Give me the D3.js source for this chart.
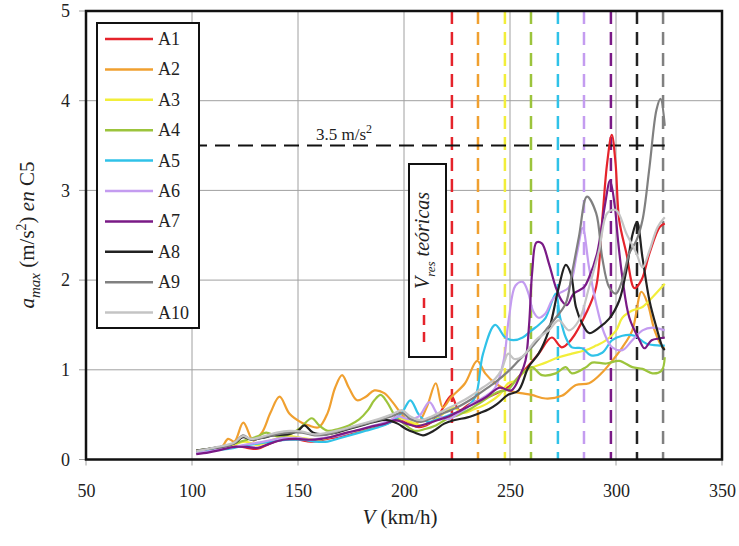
<!DOCTYPE html>
<html><head><meta charset="utf-8">
<script src="https://cdn.jsdelivr.net/npm/d3@7/dist/d3.min.js"></script>
<style>body{margin:0;background:#fff}svg{display:block}svg text{font-family:"Liberation Serif","Times New Roman",Times,serif}</style>
</head><body><svg id="c" width="739" height="546" style="font-family:'Liberation Serif',serif"></svg>
<script>
// ---- data ----
const xTicks = [50,100,150,200,250,300,350];
const yTicks = [0,1,2,3,4,5];
const seriesNames = ["A1","A2","A3","A4","A5","A6","A7","A8","A9","A10"];
const seriesColors = ["#e5232b","#f0a030","#f2ee3a","#9cc43c","#30c2e8","#c49cf0","#7a1a86","#222222","#808080","#c4c4c4"];
const resonanceSpeeds = [222.6,234.9,247.6,259.9,272.6,284.9,297.6,309.9,322.2]; // A1..A9
const limitValue = 3.5;
const limitRange = [100,323];

const A1 = [[102,0.07],[108,0.10],[114,0.12],[120,0.15],[126,0.13],[131,0.12],[137,0.18],[143,0.22],[150,0.22],[156,0.20],[162,0.22],[168,0.25],[174,0.28],[180,0.32],[186,0.36],[192,0.40],[197,0.44],[202,0.40],[207,0.36],[212,0.40],[217,0.52],[222.3,0.71],[226,0.55],[231,0.62],[238,0.68],[244,0.74],[250,0.82],[257,1.0],[263.5,1.18],[269.7,1.36],[274.4,1.25],[279,1.34],[285.9,1.63],[290.6,1.92],[293.5,2.67],[295.8,3.3],[298,3.62],[299.8,3.3],[301.5,2.67],[304.9,2.30],[308.7,1.91],[312,2.0],[315.8,2.30],[320.6,2.59],[323,2.63]];
const A2 = [[102,0.10],[108,0.11],[113.7,0.13],[117,0.23],[120,0.20],[124.2,0.41],[128.9,0.21],[133,0.30],[137,0.52],[141.3,0.70],[146,0.51],[151.8,0.41],[155,0.38],[159.8,0.36],[164,0.52],[167.5,0.80],[170.8,0.94],[174,0.80],[177.9,0.66],[182,0.70],[186,0.77],[190.7,0.74],[194.6,0.64],[199,0.50],[203.1,0.40],[207,0.42],[211,0.60],[215,0.85],[218.3,0.58],[222.1,0.69],[228.8,0.85],[234.5,1.10],[238.3,0.96],[243,0.85],[249.2,0.77],[255,0.74],[260.2,0.72],[266.8,0.68],[274.4,0.71],[281.1,0.83],[287.3,0.85],[293.5,0.97],[298.2,1.10],[303,1.25],[307.7,1.44],[312,1.87],[314.9,1.74],[318.2,1.44],[322,1.25],[323,1.24]];
const A3 = [[102,0.08],[110,0.12],[118,0.15],[125,0.20],[131,0.16],[138,0.22],[145,0.26],[152,0.24],[160,0.22],[167,0.26],[174,0.30],[180,0.33],[187,0.38],[193,0.42],[198,0.46],[203,0.42],[208,0.38],[213,0.42],[218,0.50],[223,0.58],[228,0.52],[233,0.56],[239,0.62],[245,0.72],[249.2,0.85],[253,0.88],[257.3,0.99],[266.8,1.08],[273,1.14],[279.2,1.18],[285.9,1.22],[290.6,1.27],[295.4,1.33],[300.1,1.44],[303,1.58],[307.7,1.66],[312.5,1.70],[317.2,1.81],[323,1.96]];
const A4 = [[102,0.10],[108,0.12],[114,0.14],[120,0.18],[126,0.22],[131,0.26],[135,0.30],[140,0.26],[146,0.28],[151,0.35],[156.5,0.46],[160,0.38],[164,0.32],[169,0.34],[174,0.38],[179,0.45],[183,0.55],[186,0.66],[189,0.72],[192,0.64],[196,0.48],[200,0.40],[205,0.32],[210,0.34],[215,0.38],[220,0.45],[226,0.50],[231,0.56],[237,0.65],[244,0.75],[249,0.78],[254,0.92],[260.2,1.03],[265,0.94],[271.6,0.96],[276.3,1.03],[279.2,0.96],[285.9,1.03],[288.7,1.08],[295.4,1.07],[301.5,1.10],[307.7,1.03],[312.5,1.01],[317.2,0.96],[321.5,0.99],[323,1.14]];
const A5 = [[102,0.08],[108,0.10],[114,0.11],[120,0.13],[126,0.16],[132,0.18],[138,0.20],[145,0.22],[152,0.22],[158,0.20],[164,0.20],[170,0.24],[176,0.28],[182,0.32],[188,0.36],[194,0.42],[199,0.52],[203,0.66],[207,0.50],[211,0.42],[216,0.45],[222,0.50],[228,0.55],[233.5,0.69],[237.3,1.18],[243,1.50],[247.8,1.36],[251.6,1.33],[256,1.36],[260.2,1.44],[263.5,1.50],[266.8,1.58],[271.6,1.85],[273.5,1.60],[276.3,1.36],[279.2,1.25],[284,1.24],[288.2,1.16],[293.5,1.19],[298.2,1.33],[303,1.38],[308.7,1.38],[314.4,1.29],[320.6,1.27],[323,1.27]];
const A6 = [[102,0.07],[108,0.09],[114,0.12],[120,0.14],[126,0.17],[132,0.19],[138,0.22],[144,0.24],[150,0.24],[156,0.22],[162,0.24],[168,0.26],[174,0.30],[180,0.34],[186,0.38],[192,0.42],[197,0.48],[202,0.45],[207,0.48],[212,0.64],[216,0.50],[221,0.45],[226,0.52],[232,0.62],[238,0.70],[243,0.80],[247,1.10],[249.5,1.58],[252.6,1.94],[256,1.98],[258.7,1.85],[261,1.65],[263.5,1.58],[266.8,1.63],[269.7,1.77],[273,1.85],[277.8,1.92],[281.6,2.30],[284.3,2.58],[287.3,2.14],[290.6,1.74],[294.4,1.41],[298.2,1.25],[303,1.22],[307.7,1.33],[312.5,1.44],[317.2,1.47],[323,1.44]];
const A7 = [[102,0.06],[108,0.08],[114,0.11],[120,0.14],[126,0.14],[131,0.13],[137,0.18],[143,0.22],[149,0.23],[155,0.22],[161,0.23],[167,0.26],[173,0.30],[179,0.33],[185,0.37],[191,0.40],[196,0.44],[201,0.40],[206,0.37],[211,0.40],[216,0.44],[221,0.48],[227,0.55],[233,0.62],[239,0.70],[245,0.80],[250.7,0.77],[255,0.95],[257.3,1.10],[259,1.5],[260.5,2.1],[262.5,2.42],[265,2.41],[268.3,2.19],[271.6,1.92],[274.4,1.77],[276.8,1.72],[280.1,1.85],[284.9,1.92],[287.3,2.03],[291.1,2.30],[294.6,2.81],[297.2,3.11],[299.5,2.81],[300.8,2.48],[303,2.03],[306.3,1.58],[311.1,1.33],[313.4,1.24],[316.8,1.33],[320.6,1.35],[323,1.36]];
const A8 = [[102,0.10],[108,0.12],[114,0.14],[120,0.18],[124,0.25],[128,0.22],[133,0.24],[139,0.27],[145,0.28],[150,0.32],[153,0.38],[157,0.30],[162,0.28],[168,0.30],[174,0.34],[180,0.38],[186,0.42],[192,0.44],[197,0.40],[201,0.34],[205,0.30],[209,0.27],[214,0.32],[219,0.40],[224,0.44],[230,0.47],[236,0.52],[240,0.56],[244,0.62],[249,0.72],[254,0.77],[258.7,1.03],[263.5,1.18],[268.3,1.44],[273,1.92],[276.3,2.17],[278.7,2.07],[281.1,1.70],[284,1.52],[287.3,1.41],[292,1.47],[296.8,1.57],[301.5,1.77],[304.9,2.11],[307.7,2.50],[309.9,2.65],[312.5,2.25],[315.8,1.77],[319.1,1.47],[322,1.25],[323,1.22]];
const A9 = [[102,0.10],[108,0.12],[114,0.14],[120,0.18],[124,0.27],[128,0.22],[134,0.25],[140,0.28],[146,0.30],[152,0.30],[158,0.27],[164,0.28],[170,0.32],[176,0.36],[182,0.40],[188,0.44],[194,0.48],[199,0.52],[203,0.45],[208,0.42],[213,0.46],[219,0.52],[225,0.58],[231,0.66],[237,0.76],[243,0.86],[249,0.98],[254,1.10],[260.2,1.25],[266.8,1.44],[271.6,1.58],[276.3,1.74],[279.2,2.07],[282.5,2.48],[286.3,2.93],[290.6,2.75],[293.5,2.25],[296.8,1.92],[300,1.85],[303,2.0],[306.3,2.30],[309.6,2.44],[312.5,2.67],[315.8,3.26],[319.1,3.90],[321,4.02],[323,3.72]];
const A10 = [[102,0.09],[108,0.12],[114,0.15],[120,0.19],[124,0.26],[128,0.23],[134,0.26],[140,0.30],[146,0.32],[152,0.31],[158,0.28],[164,0.30],[170,0.33],[176,0.37],[182,0.41],[188,0.45],[194,0.50],[199,0.55],[203,0.48],[208,0.44],[213,0.48],[219,0.55],[225,0.62],[231,0.70],[237,0.80],[243,0.90],[246,1.0],[249.2,1.18],[252,1.12],[256,1.15],[262.1,1.33],[268.3,1.44],[273,1.55],[277.8,1.44],[282.5,1.55],[287.3,1.92],[292,2.33],[296,2.75],[300.1,2.78],[304.9,2.52],[309.6,2.30],[312.5,2.14],[315.8,2.33],[319.6,2.59],[323,2.70]];
const seriesData = [A1,A2,A3,A4,A5,A6,A7,A8,A9,A10];

// ---- chart ----
const FONT = "'Liberation Serif','Times New Roman',Times,serif";
const svg = d3.select("#c");
const L=86,R=722,T=11,B=459.5;
const x = d3.scaleLinear().domain([50,350]).range([L,R]);
const y = d3.scaleLinear().domain([0,5]).range([B,T]);

// grid
const g = svg.append("g");
g.selectAll(".vg").data(xTicks).join("line").attr("x1",d=>x(d)).attr("x2",d=>x(d)).attr("y1",T).attr("y2",B+6).attr("stroke","#a0a0a0").attr("stroke-width",1);
g.selectAll(".hg").data(yTicks).join("line").attr("y1",d=>y(d)).attr("y2",d=>y(d)).attr("x1",L-7).attr("x2",R).attr("stroke","#a0a0a0").attr("stroke-width",1);

// axes labels via d3 axes
const xAxis = svg.append("g").attr("transform",`translate(0,${B})`).call(d3.axisBottom(x).tickValues(xTicks).tickFormat(d3.format("d")).tickSize(0).tickPadding(25));
const yAxis = svg.append("g").attr("transform",`translate(${L},0)`).call(d3.axisLeft(y).tickValues(yTicks).tickFormat(d3.format("d")).tickSize(0).tickPadding(16));
[xAxis,yAxis].forEach(a=>{a.attr("font-family",null);a.select(".domain").remove();a.selectAll("text").attr("font-size",18).attr("fill","#222").style("font-family",FONT);});

// resonance dashed lines
svg.selectAll(".res").data(resonanceSpeeds).join("line")
  .attr("x1",d=>x(d)).attr("x2",d=>x(d)).attr("y1",T).attr("y2",B)
  .attr("stroke",(d,i)=>seriesColors[i]).attr("stroke-width",2.5).attr("stroke-dasharray","13,8");

// limit line
svg.append("line").attr("x1",x(limitRange[0])).attr("x2",x(limitRange[1])).attr("y1",y(limitValue)).attr("y2",y(limitValue))
  .attr("stroke","#111").attr("stroke-width",2).attr("stroke-dasharray","15,8");
const lt = svg.append("text").attr("x",316).attr("y",y(limitValue)-6).attr("font-size",17).attr("fill","#222").style("font-family",FONT);
lt.append("tspan").text(limitValue+" m/s");
lt.append("tspan").text("2").attr("font-size",12).attr("dy",-7);

// series
const line = d3.line().x(d=>x(d[0])).y(d=>y(d[1])).curve(d3.curveCatmullRom.alpha(0.5));
svg.selectAll(".s").data(seriesData).join("path").attr("d",line).attr("fill","none")
  .attr("stroke",(d,i)=>seriesColors[i]).attr("stroke-width",2.2).attr("stroke-linejoin","round");

// frame
svg.append("rect").attr("x",L).attr("y",T).attr("width",R-L).attr("height",B-T).attr("fill","none").attr("stroke","#111").attr("stroke-width",2.5);

// legend
const lg = svg.append("g");
lg.append("rect").attr("x",97).attr("y",23).attr("width",102).attr("height",305).attr("fill","#fff").attr("stroke","#111").attr("stroke-width",2);
const li = lg.selectAll(".li").data(seriesNames).join("g").attr("transform",(d,i)=>`translate(0,${39+i*30.4})`);
li.append("line").attr("x1",105).attr("x2",153).attr("stroke",(d,i)=>seriesColors[i]).attr("stroke-width",2.5);
li.append("text").attr("x",158).attr("y",6).attr("font-size",18).attr("fill","#222").style("font-family",FONT).text(d=>d);

// V_res box
svg.append("rect").attr("x",409).attr("y",164).attr("width",37).attr("height",193).attr("fill","#fff").attr("stroke","#111").attr("stroke-width",2);
const vt = svg.append("text").attr("transform","translate(429,289) rotate(-90)").attr("font-size",20).attr("fill","#222").attr("font-style","italic").style("font-family",FONT);
vt.append("tspan").text("V");
vt.append("tspan").text("res").attr("font-size",13).attr("dy",6);
vt.append("tspan").text(" teóricas").attr("font-size",20).attr("dy",-6);
svg.append("line").attr("x1",424).attr("x2",424).attr("y1",298).attr("y2",346).attr("stroke",seriesColors[0]).attr("stroke-width",2.5).attr("stroke-dasharray","10,7");

// axis titles
const xt = svg.append("text").attr("x",400).attr("y",524).attr("text-anchor","middle").attr("font-size",21).attr("fill","#222").style("font-family",FONT);
xt.append("tspan").text("V").attr("font-style","italic");
xt.append("tspan").text("\u00a0(km/h)");
const yt = svg.append("text").attr("transform","translate(34,235) rotate(-90)").attr("text-anchor","middle").attr("font-size",21).attr("fill","#222").style("font-family",FONT);
yt.append("tspan").text("a").attr("font-style","italic");
yt.append("tspan").text("max").attr("font-style","italic").attr("font-size",15).attr("dy",6);
yt.append("tspan").text(" (m/s").attr("dy",-6);
yt.append("tspan").text("2").attr("font-size",14).attr("dy",-8);
yt.append("tspan").text(") ").attr("dy",8);
yt.append("tspan").text("en").attr("font-style","italic");
yt.append("tspan").text(" C5");
</script></body></html>
